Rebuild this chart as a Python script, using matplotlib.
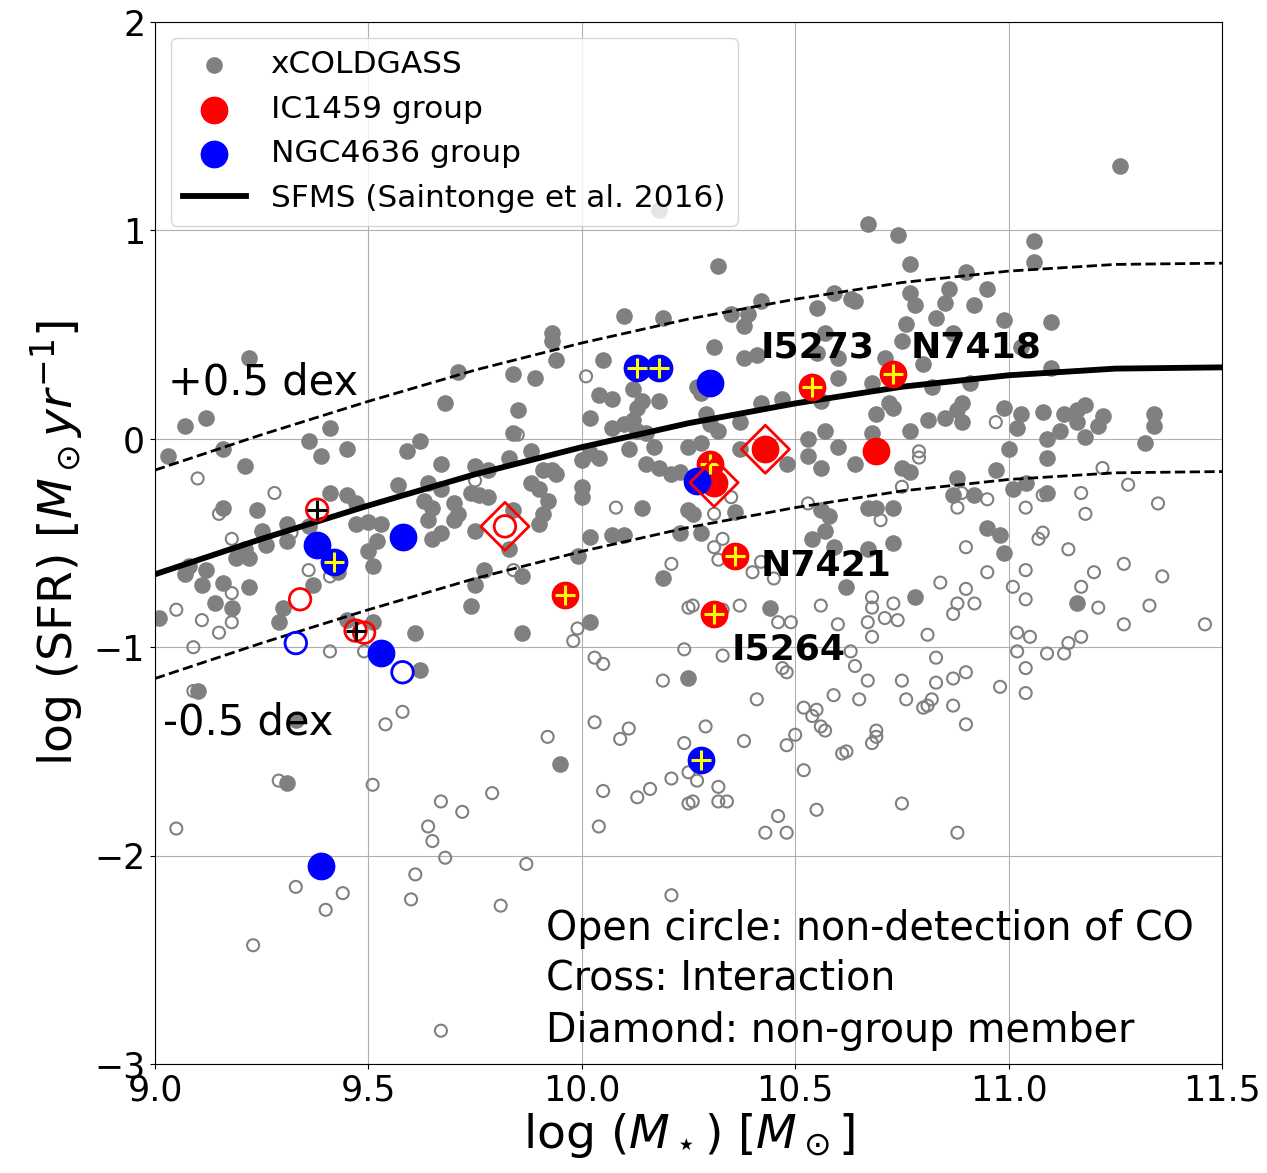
import numpy as np
import matplotlib.pyplot as plt

# xCOLDGASS, CO detections (filled grey)
det_x = [9.01, 9.03, 9.07, 9.12, 9.16, 9.21, 9.16, 9.24, 9.07, 9.08, 9.12, 9.11, 9.16, 9.14, 9.18,
         9.22, 9.21, 9.19, 9.22, 9.25, 9.26, 9.31, 9.31, 9.36, 9.30, 9.29, 9.37, 9.43, 9.41, 9.45,
         9.47, 9.47, 9.50, 9.50, 9.51, 9.45, 9.51, 9.10, 9.33, 9.31, 9.22, 9.36, 9.39, 9.41, 9.45,
         9.53, 9.52, 9.57, 9.64, 9.63, 9.65, 9.70, 9.70, 9.71, 9.64, 9.67, 9.65, 9.75, 9.74, 9.78,
         9.59, 9.62, 9.68, 9.67, 9.67, 9.75, 9.78, 9.76, 9.83, 9.84, 9.85, 9.84, 9.89, 9.88, 9.91,
         9.93, 9.94, 9.88, 9.90, 9.92, 9.91, 9.90, 9.84, 10.00, 10.00, 10.02, 10.04, 10.02, 9.71, 9.93,
         9.93, 9.94, 9.61, 9.62, 9.77, 9.75, 9.74, 9.83, 9.86, 9.86, 9.99, 9.95, 10.07, 10.10,
         10.07, 10.14, 10.18, 10.13, 10.07, 10.10, 10.12, 10.13, 10.29, 10.32, 10.37, 10.42, 10.47, 10.56,
         10.57, 10.53, 10.60, 10.64, 10.53, 10.56, 10.48, 10.37, 10.25, 10.28, 10.11, 10.15, 10.18, 10.23,
         10.02, 10.04, 10.00, 10.32, 10.10, 10.19, 10.05, 10.31, 10.27, 10.28, 10.38, 10.38, 10.41, 10.42,
         10.35, 10.39, 10.55, 10.59, 10.63, 10.57, 10.55, 10.60, 10.60, 10.12, 10.15, 10.17, 10.21, 10.30,
         10.36, 10.25, 10.26, 10.14, 10.23, 10.28, 10.69, 10.68, 10.68, 10.67, 10.69, 10.57, 10.56, 10.58,
         10.19, 10.54, 10.59, 10.62, 10.44, 10.02, 10.25, 10.18, 10.67, 10.64,
         11.26, 10.74, 11.06, 11.06, 10.77, 10.90, 10.86, 10.95, 10.77, 10.78, 10.85, 10.92, 10.83, 10.99,
         11.10, 10.76, 10.75, 10.87, 10.71, 10.80, 11.03, 11.10, 10.82, 10.91, 10.72, 10.73, 10.77, 10.81,
         10.85, 10.88, 10.89, 10.89, 10.99, 11.03, 11.02, 11.08, 11.13, 11.16, 11.18, 11.16, 11.12, 11.18,
         11.22, 11.21, 11.34, 11.34, 11.32, 11.09, 11.09, 11.00, 10.97, 10.75, 10.77, 10.88, 11.01, 11.04,
         10.87, 10.92, 11.09, 10.73, 10.95, 10.98, 10.99, 10.67, 10.73, 10.78, 11.16]
det_y = [-0.86, -0.08, 0.06, 0.10, -0.05, -0.13, -0.33, -0.34, -0.65, -0.61, -0.63, -0.70, -0.69, -0.79, -0.81,
         -0.71, -0.53, -0.57, -0.57, -0.44, -0.51, -0.41, -0.49, -0.42, -0.81, -0.88, -0.70, -0.64, -0.26, -0.27,
         -0.31, -0.41, -0.40, -0.54, -0.61, -0.87, -0.88, -1.21, -1.35, -1.65, 0.39, -0.01, -0.08, 0.05, -0.05,
         -0.41, -0.49, -0.22, -0.21, -0.30, -0.33, -0.31, -0.39, -0.36, -0.39, -0.45, -0.48, -0.44, -0.26, -0.28,
         -0.06, -0.01, 0.17, -0.12, -0.24, -0.13, -0.15, -0.27, -0.09, 0.03, 0.14, 0.31, 0.29, -0.06, -0.15,
         -0.15, -0.17, -0.21, -0.24, -0.30, -0.36, -0.41, -0.34, -0.23, -0.28, 0.10, 0.21, -0.47, 0.32, 0.51,
         0.47, 0.38, -0.93, -1.11, -0.63, -0.70, -0.80, -0.53, -0.66, -0.93, -0.56, -1.56, -0.46, -0.46,
         0.19, 0.18, 0.18, 0.15, 0.05, 0.07, 0.09, 0.04, 0.12, 0.04, 0.08, 0.17, 0.19, 0.18,
         0.04, 0.00, -0.04, -0.12, -0.08, -0.14, -0.12, -0.05, -0.04, -0.02, -0.05, -0.12, -0.14, -0.16,
         -0.07, -0.09, -0.10, 0.83, 0.59, 0.58, 0.38, 0.44, 0.25, 0.22, 0.54, 0.39, 0.40, 0.66,
         0.60, 0.60, 0.63, 0.70, 0.67, 0.51, 0.41, 0.39, 0.29, 0.24, 0.03, -0.04, -0.17, 0.07,
         -0.35, -0.34, -0.36, -0.33, -0.45, -0.45, 0.12, 0.03, 0.27, -0.33, -0.33, -0.44, -0.34, -0.37,
         -0.67, -0.48, -0.52, -0.71, -0.81, -0.88, -1.15, 1.10, 1.03, 0.66,
         1.31, 0.98, 0.95, 0.85, 0.84, 0.80, 0.72, 0.72, 0.70, 0.64, 0.65, 0.64, 0.58, 0.57,
         0.56, 0.55, 0.47, 0.51, 0.39, 0.36, 0.44, 0.34, 0.25, 0.27, 0.17, 0.15, 0.04, 0.09,
         0.10, 0.14, 0.17, 0.08, 0.15, 0.12, 0.05, 0.13, 0.12, 0.14, 0.16, 0.08, 0.04, 0.01,
         0.11, 0.06, 0.12, 0.06, -0.02, 0.00, -0.09, -0.05, -0.15, -0.14, -0.16, -0.19, -0.24, -0.21,
         -0.27, -0.27, -0.26, -0.33, -0.43, -0.46, -0.55, -0.53, -0.50, -0.76, -0.79]

# xCOLDGASS, CO non-detections (open grey)
nd_x = [9.10, 9.28, 9.15, 9.18, 9.32, 9.36, 9.41, 9.18, 9.05, 9.11, 9.18, 9.15, 9.09, 9.41, 9.49,
        9.09, 9.58, 9.54, 9.75, 9.84, 10.01, 9.85, 9.29, 9.51, 9.05, 9.67, 9.72, 9.79, 9.64, 9.65,
        9.68, 9.61, 9.60, 9.81, 9.33, 9.44, 9.40, 9.23, 9.67,
        10.08, 10.35, 10.31, 10.31, 10.33, 10.32, 10.21, 10.40, 10.42, 10.45, 10.25, 10.26, 10.37, 10.33,
        10.46, 10.49, 10.56, 10.60, 9.99, 9.98, 10.24, 10.33, 10.03, 10.05, 10.19, 10.47, 10.48, 10.63,
        10.64, 10.41, 10.52, 10.59, 10.54, 10.55, 10.56, 10.03, 10.11, 10.29, 9.92, 10.09, 10.24, 10.38,
        10.50, 10.48, 10.57, 10.61, 10.62, 10.52, 10.25, 10.27, 10.21, 10.16, 10.13, 10.05, 10.32, 10.32,
        10.34, 10.25, 10.26, 10.46, 10.43, 10.48, 10.55, 10.04, 9.87, 10.21, 10.53,
        10.97, 10.79, 10.79, 11.22, 10.75, 10.95, 10.88, 11.08, 11.17, 11.28, 11.35, 11.18, 11.04, 10.70,
        11.08, 11.07, 11.14, 10.90, 11.04, 10.95, 10.84, 11.01, 11.04, 11.17, 11.20, 11.27, 11.36, 11.21,
        11.33, 11.27, 11.46, 11.17, 11.14, 11.13, 11.09, 11.02, 11.02, 11.05, 11.04, 11.04, 10.98, 10.68,
        10.68, 10.73, 10.71, 10.74, 10.67, 10.68, 10.81, 10.90, 10.88, 10.92, 10.87, 10.67, 10.75, 10.83,
        10.83, 10.87, 10.90, 10.76, 10.82, 10.81, 10.80, 10.87, 10.65, 10.90, 10.69, 10.68, 10.69, 10.75,
        10.88, 10.89]
nd_y = [-0.19, -0.26, -0.36, -0.48, -0.45, -0.63, -0.66, -0.74, -0.82, -0.87, -0.88, -0.93, -1.00, -1.02, -1.02,
        -1.21, -1.31, -1.37, -0.20, -0.63, 0.30, 0.02, -1.64, -1.66, -1.87, -1.74, -1.79, -1.70, -1.86, -1.93,
        -2.01, -2.09, -2.21, -2.24, -2.15, -2.18, -2.26, -2.43, -2.84,
        -0.33, -0.28, -0.36, -0.52, -0.48, -0.58, -0.60, -0.64, -0.59, -0.67, -0.81, -0.80, -0.80, -0.82,
        -0.88, -0.88, -0.80, -0.89, -0.91, -0.97, -1.01, -1.04, -1.05, -1.08, -1.16, -1.10, -1.12, -1.02,
        -1.09, -1.25, -1.29, -1.23, -1.33, -1.30, -1.38, -1.36, -1.39, -1.38, -1.43, -1.44, -1.46, -1.45,
        -1.42, -1.47, -1.40, -1.51, -1.50, -1.59, -1.60, -1.64, -1.63, -1.68, -1.72, -1.69, -1.67, -1.74,
        -1.74, -1.75, -1.74, -1.81, -1.89, -1.89, -1.78, -1.86, -2.04, -2.19, -0.31,
        0.08, -0.06, -0.09, -0.14, -0.23, -0.29, -0.33, -0.27, -0.26, -0.22, -0.31, -0.36, -0.33, -0.39,
        -0.45, -0.48, -0.53, -0.52, -0.63, -0.64, -0.69, -0.71, -0.77, -0.71, -0.64, -0.60, -0.66, -0.81,
        -0.80, -0.89, -0.89, -0.95, -0.98, -1.03, -1.03, -1.02, -0.93, -0.95, -1.10, -1.22, -1.19, -0.76,
        -0.81, -0.79, -0.86, -0.87, -0.88, -0.95, -0.94, -0.72, -0.79, -0.79, -0.84, -1.16, -1.16, -1.05,
        -1.17, -1.15, -1.12, -1.25, -1.25, -1.28, -1.29, -1.28, -1.25, -1.37, -1.40, -1.46, -1.43, -1.75,
        -1.89, -0.26]

# IC1459 group (red)
ic_x = [10.54, 10.73, 10.30, 10.36, 9.96, 10.31, 10.69, 10.43, 10.31]
ic_y = [0.25, 0.31, -0.12, -0.56, -0.75, -0.84, -0.06, -0.05, -0.21]
ic_cross = [True, True, True, True, True, True, False, False, False]
ic_diamond = [False, False, False, False, False, False, False, True, True]
ic_open_x = [9.34, 9.38, 9.47, 9.49, 9.82]
ic_open_y = [-0.77, -0.34, -0.92, -0.93, -0.42]
ic_open_cross = [False, True, True, False, False]
ic_open_diamond = [False, False, False, False, True]

# NGC4636 group (blue)
ngc_x = [10.13, 10.18, 10.30, 10.27, 9.38, 9.42, 9.58, 9.53, 9.39, 10.28]
ngc_y = [0.34, 0.34, 0.27, -0.20, -0.51, -0.59, -0.47, -1.03, -2.05, -1.54]
ngc_cross = [True, True, False, False, False, True, False, False, False, True]
ngc_open_x = [9.58, 9.33]
ngc_open_y = [-1.12, -0.98]

# SFMS, Saintonge et al. 2016
ms_x = [9.0, 9.25, 9.5, 9.75, 10.0, 10.25, 10.5, 10.75, 11.0, 11.25, 11.5]
ms_y = [-0.65, -0.48, -0.32, -0.17, -0.04, 0.075, 0.17, 0.25, 0.305, 0.337, 0.343]

plt.rcParams['font.family'] = 'DejaVu Sans'
fig = plt.figure(figsize=(12.67, 11.73), dpi=100)
ax = fig.add_axes([0.1223, 0.0929, 0.8422, 0.8883])

ax.scatter(det_x, det_y, s=120, c='gray', zorder=2, label='xCOLDGASS')
ax.scatter(nd_x, nd_y, s=75, facecolors='none', edgecolors='gray', linewidths=1.5, zorder=2)

ms_x = np.array(ms_x)
ms_y = np.array(ms_y)
ax.plot(ms_x, ms_y, 'k-', lw=4.2, zorder=3)
ax.plot(ms_x, ms_y + 0.5, 'k--', lw=2, zorder=3)
ax.plot(ms_x, ms_y - 0.5, 'k--', lw=2, zorder=3)

ic_x, ic_y = np.array(ic_x), np.array(ic_y)
ngc_x, ngc_y = np.array(ngc_x), np.array(ngc_y)
h_ic = ax.scatter(ic_x, ic_y, s=360, c='red', zorder=4)
h_ngc = ax.scatter(ngc_x, ngc_y, s=360, c='blue', zorder=4)
ax.scatter(ic_open_x, ic_open_y, s=240, facecolors='none', edgecolors='red', linewidths=2, zorder=4)
ax.scatter(ngc_open_x, ngc_open_y, s=240, facecolors='none', edgecolors='blue', linewidths=2, zorder=4)

# crosses = interaction
ic_cross = np.array(ic_cross)
ngc_cross = np.array(ngc_cross)
ax.scatter(ic_x[ic_cross], ic_y[ic_cross], s=200, marker='+', c='yellow', linewidths=2.2, zorder=5)
ax.scatter(ngc_x[ngc_cross], ngc_y[ngc_cross], s=200, marker='+', c='yellow', linewidths=2.2, zorder=5)
ic_open_x, ic_open_y = np.array(ic_open_x), np.array(ic_open_y)
ic_open_cross = np.array(ic_open_cross)
ax.scatter(ic_open_x[ic_open_cross], ic_open_y[ic_open_cross], s=220, marker='+', c='black',
           linewidths=2.2, zorder=5)

# diamonds = non-group member
ic_diamond = np.array(ic_diamond)
ic_open_diamond = np.array(ic_open_diamond)
ax.scatter(ic_x[ic_diamond], ic_y[ic_diamond], s=600, marker='D', facecolors='none',
           edgecolors='red', linewidths=2, zorder=5)
ax.scatter(ic_open_x[ic_open_diamond], ic_open_y[ic_open_diamond], s=600, marker='D',
           facecolors='none', edgecolors='red', linewidths=2, zorder=5)

ax.text(9.03, 0.27, '+0.5 dex', fontsize=30, va='center', ha='left')
ax.text(9.02, -1.36, '-0.5 dex', fontsize=30, va='center', ha='left')
ax.text(10.42, 0.44, 'I5273', fontsize=26, fontweight='bold', va='center', ha='left')
ax.text(10.77, 0.44, 'N7418', fontsize=26, fontweight='bold', va='center', ha='left')
ax.text(10.42, -0.61, 'N7421', fontsize=26, fontweight='bold', va='center', ha='left')
ax.text(10.35, -1.01, 'I5264', fontsize=26, fontweight='bold', va='center', ha='left')
ax.text(9.915, -2.35, 'Open circle: non-detection of CO', fontsize=28.5, va='center', ha='left')
ax.text(9.915, -2.59, 'Cross: Interaction', fontsize=28.5, va='center', ha='left')
ax.text(9.915, -2.84, 'Diamond: non-group member', fontsize=28.5, va='center', ha='left')

ax.set_xlim(9.0, 11.5)
ax.set_ylim(-3, 2)
ax.set_xticks([9.0, 9.5, 10.0, 10.5, 11.0, 11.5])
ax.set_yticks([-3, -2, -1, 0, 1, 2])
ax.tick_params(labelsize=25)
ax.set_xlabel(r'log ($M_\star$) [$M_\odot$]', fontsize=34, labelpad=2)
ax.set_ylabel(r'log (SFR) [$M_\odot yr^{-1}$]', fontsize=34, labelpad=6)
ax.grid(True)
ax.set_axisbelow(True)

leg_gray = ax.scatter([], [], s=120, c='gray')
leg_red = ax.scatter([], [], s=360, c='red')
leg_blue = ax.scatter([], [], s=360, c='blue')
leg_line = plt.Line2D([], [], color='k', lw=4.2)
ax.legend([leg_gray, leg_red, leg_blue, leg_line],
          ['xCOLDGASS', 'IC1459 group', 'NGC4636 group', 'SFMS (Saintonge et al. 2016)'],
          loc='upper left', fontsize=22.5)

plt.savefig('out.png')
